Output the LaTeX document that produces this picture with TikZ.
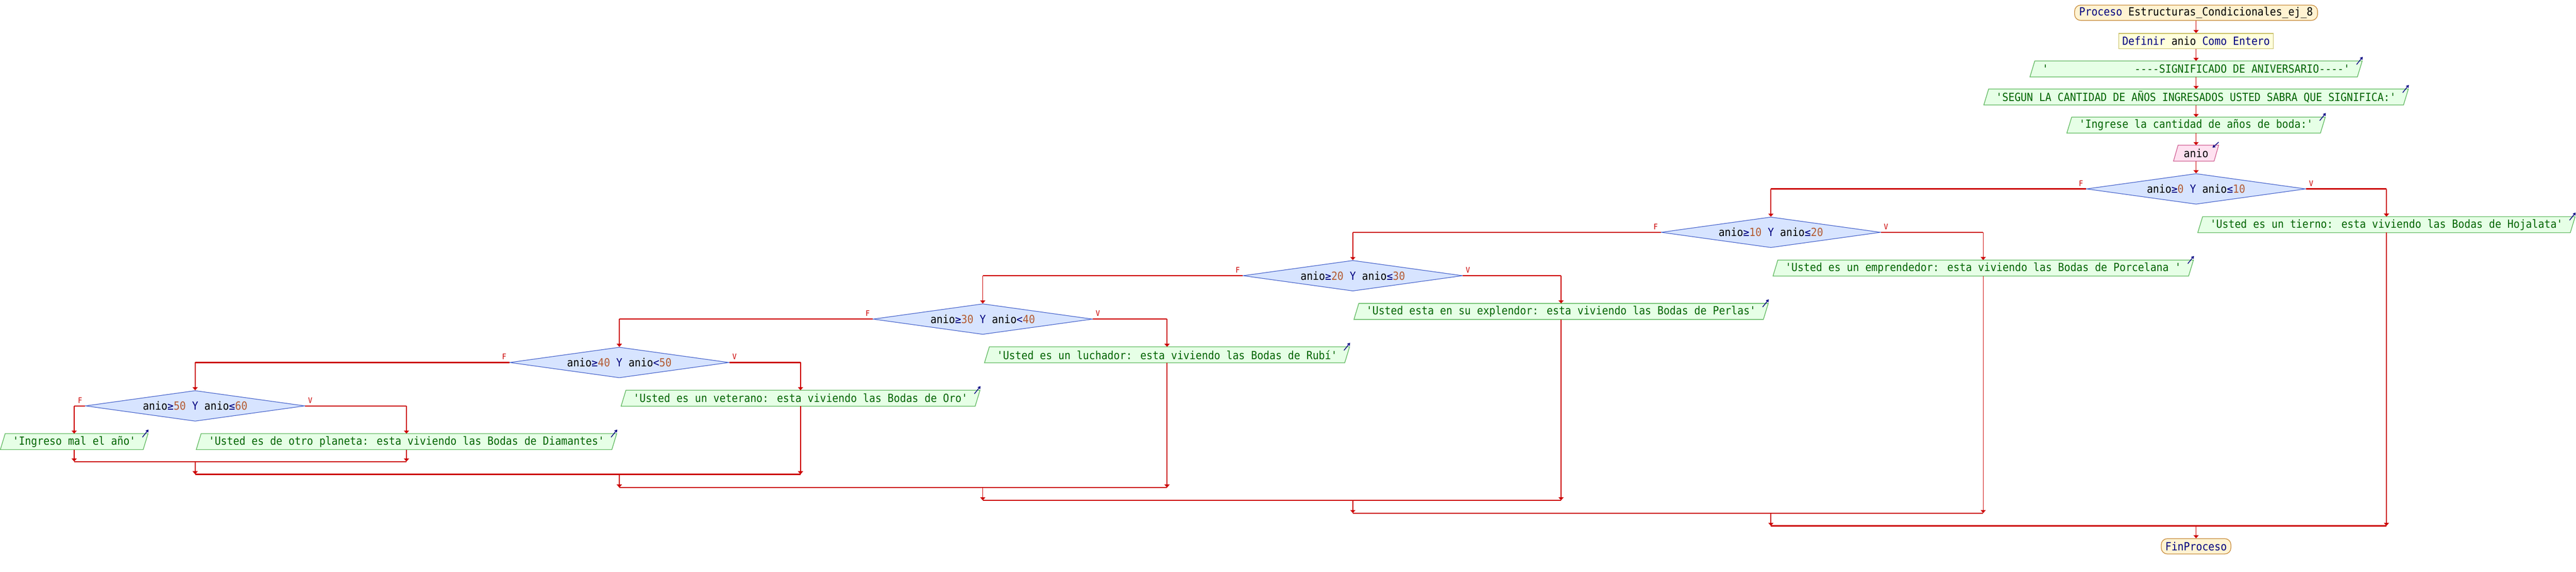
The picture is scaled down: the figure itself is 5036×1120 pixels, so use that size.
\documentclass[tikz,border=0pt]{standalone}
\usepackage{fontspec}
\usetikzlibrary{shapes.geometric,arrows.meta,calc}
\newfontfamily\pf[FakeStretch=0.91,Ligatures=TeXOff]{DejaVu Sans Mono}
\definecolor{flow}{RGB}{204,0,0}
\definecolor{navy}{RGB}{0,0,128}
\definecolor{numc}{RGB}{180,90,50}
\definecolor{termfill}{RGB}{255,243,210}
\definecolor{termdraw}{RGB}{200,140,60}
\definecolor{deffill}{RGB}{255,255,220}
\definecolor{defdraw}{RGB}{200,190,100}
\definecolor{outfill}{RGB}{230,255,230}
\definecolor{outdraw}{RGB}{95,185,95}
\definecolor{outtext}{RGB}{0,100,0}
\definecolor{infill}{RGB}{255,225,240}
\definecolor{indraw}{RGB}{210,100,150}
\definecolor{condfill}{RGB}{215,228,255}
\definecolor{conddraw}{RGB}{60,90,200}
\newcommand\mycond[4]{anio{\color{navy}#1}{\color{numc}#2} {\color{navy}Y} anio{\color{navy}#3}{\color{numc}#4}}
\pgfdeclarelayer{paper}
\pgfdeclarelayer{back}
\pgfsetlayers{paper,back,main}
\begin{document}
\begin{tikzpicture}[x=1pt,y=-1pt,
 base/.style={font=\pf\fontsize{22}{24}\selectfont, inner ysep=0pt, minimum height=30pt, line width=1.3pt},
 term/.style={base, draw=termdraw, fill=termfill, rounded corners=12pt, text=navy, inner xsep=9pt},
 defbox/.style={base, draw=defdraw, fill=deffill, text=black, inner xsep=7pt},
 outbox/.style={base, text=outtext, inner xsep=14pt},
 inbox/.style={base, text=black, inner xsep=10.5pt},
 outshape/.style={draw=outdraw, fill=outfill, line width=1.3pt},
 inshape/.style={draw=indraw, fill=infill, line width=1.3pt},
 cond/.style={base, diamond, aspect=7, draw=conddraw, fill=condfill, minimum width=430pt, minimum height=60pt, inner sep=0pt, line width=1.1pt},
 hl/.style={draw=flow, line width=2.2pt},
 vl/.style={draw=flow, line width=1.6pt, -{Triangle[length=6pt,width=10pt]}},
 lbl/.style={text=flow, font=\pf\fontsize{15}{16}\selectfont, inner sep=0pt},
 icon/.style={draw=navy, line width=1.4pt, -{Straight Barb[length=4pt,width=5pt]}},
]
\begin{pgfonlayer}{paper}
\useasboundingbox[fill=white] (0,0) rectangle (5036,1120);
\end{pgfonlayer}

% main chain
\node[term] (proc) at (4299,25) {Proceso {\color{black}Estructuras\_Condicionales\_ej\_8}};
\node[defbox] (def) at (4299,80.5) {{\color{navy}Definir} anio {\color{navy}Como Entero}};
\node[outbox] (o1) at (4299,135) {'\phantom{xxxxxxxxxxxxxx}----SIGNIFICADO DE ANIVERSARIO----'};
\node[outbox] (o2) at (4299,190) {'SEGUN LA CANTIDAD DE AÑOS INGRESADOS USTED SABRA QUE SIGNIFICA:'};
\node[outbox] (o3) at (4299,245) {'Ingrese la cantidad de años de boda:'};
\node[inbox] (inp) at (4299,300) {anio};

% conditions
\node[cond] (d1) at (4299,370) {\mycond{≥}{0}{≤}{10}};
\node[cond] (d2) at (3466,455) {\mycond{≥}{10}{≤}{20}};
\node[cond] (d3) at (2647,540) {\mycond{≥}{20}{≤}{30}};
\node[cond] (d4) at (1922,625) {\mycond{≥}{30}{<}{40}};
\node[cond] (d5) at (1210,710) {\mycond{≥}{40}{<}{50}};
\node[cond] (d6) at (379,795) {\mycond{≥}{50}{≤}{60}};

% outputs of branches
\node[outbox] (hoj) at (4672,440) {'Usted es un tierno: esta viviendo las Bodas de Hojalata'};
\node[outbox] (por) at (3882,525) {'Usted es un emprendedor: esta viviendo las Bodas de Porcelana '};
\node[outbox] (per) at (3055,610) {'Usted esta en su explendor: esta viviendo las Bodas de Perlas'};
\node[outbox] (rub) at (2283,695) {'Usted es un luchador: esta viviendo las Bodas de Rubí'};
\node[outbox] (oro) at (1565,780) {'Usted es un veterano: esta viviendo las Bodas de Oro'};
\node[outbox] (dia) at (793,865) {'Usted es de otro planeta: esta viviendo las Bodas de Diamantes'};
\node[outbox] (ing) at (142,865) {'Ingreso mal el año'};

\node[term, inner xsep=8pt] (fin) at (4299,1070) {FinProceso};

% parallelogram outlines behind the texts
\begin{pgfonlayer}{back}
\foreach \n in {o1,o2,o3,hoj,por,per,rub,oro,dia,ing}{
  \path[outshape] ($(\n.south west)+(-9.5pt,0pt)$) -- (\n.north west) -- ($(\n.north east)+(9.5pt,0pt)$) -- (\n.south east) -- cycle;
}
\path[inshape] ($(inp.south west)+(-9pt,0pt)$) -- (inp.north west) -- ($(inp.north east)+(9pt,0pt)$) -- (inp.south east) -- cycle;
\end{pgfonlayer}

% icons
\foreach \n in {o1,o2,o3,hoj,por,per,rub,oro,dia,ing}{
  \draw[icon] ($(\n.north east)+(-1.5pt,-7pt)$) -- ($(\n.north east)+(10.5pt,8pt)$);
}
\draw[icon] ($(inp.north east)+(9pt,6pt)$) -- ($(inp.north east)+(-3pt,-5pt)$);

% main chain connectors
\draw[vl] (proc.south) -- (def.north);
\draw[vl] (def.south) -- (o1.north);
\draw[vl] (o1.south) -- (o2.north);
\draw[vl] (o2.south) -- (o3.north);
\draw[vl] (o3.south) -- (inp.north);
\draw[vl] (inp.south) -- (d1.north);

% branches
\foreach \d/\f/\v in {d1/d2/hoj, d2/d3/por, d3/d4/per, d4/d5/rub, d5/d6/oro, d6/ing/dia}{
  \coordinate (\d F) at (\f.north |- \d.west);
  \coordinate (\d V) at (\v.north |- \d.east);
  \draw[hl] (\d.west) -- (\d F);
  \draw[vl] (\d F) -- (\f.north);
  \draw[hl] (\d.east) -- (\d V);
  \draw[vl] (\d V) -- (\v.north);
  \node[lbl] (\d Fl) at ($(\d.west)+(-10pt,11pt)$) {F};
  \node[lbl] (\d Vl) at ($(\d.east)+(10pt,11pt)$) {V};
}

% merges
\coordinate (m6l) at (142,904);  \coordinate (m6r) at (793,904);  \coordinate (m6c) at (379,904);
\coordinate (m5l) at (379,929);  \coordinate (m5r) at (1565,929); \coordinate (m5c) at (1210,929);
\coordinate (m4l) at (1210,955); \coordinate (m4r) at (2283,955); \coordinate (m4c) at (1922,955);
\coordinate (m3l) at (1922,980); \coordinate (m3r) at (3055,980); \coordinate (m3c) at (2647,980);
\coordinate (m2l) at (2647,1005); \coordinate (m2r) at (3882,1005); \coordinate (m2c) at (3466,1005);
\coordinate (m1l) at (3466,1030); \coordinate (m1r) at (4672,1030); \coordinate (m1c) at (4299,1030);

\foreach \m in {m1,m2,m3,m4,m5,m6}{ \draw[hl] (\m l) -- (\m r); }

\draw[vl] (ing.south) -- (m6l);
\draw[vl] (dia.south) -- (m6r);
\draw[vl] (oro.south) -- (m5r);
\draw[vl] (rub.south) -- (m4r);
\draw[vl] (per.south) -- (m3r);
\draw[vl] (por.south) -- (m2r);
\draw[vl] (hoj.south) -- (m1r);

\draw[vl] (m6c) -- (m5l);
\draw[vl] (m5c) -- (m4l);
\draw[vl] (m4c) -- (m3l);
\draw[vl] (m3c) -- (m2l);
\draw[vl] (m2c) -- (m1l);
\draw[vl] (m1c) -- (fin.north);
\end{tikzpicture}
\end{document}
